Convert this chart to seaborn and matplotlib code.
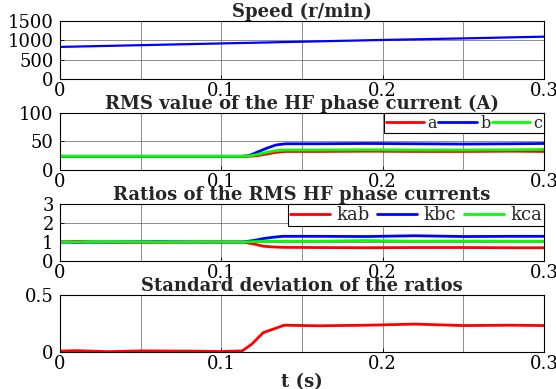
import matplotlib
matplotlib.use("Agg")
import matplotlib.pyplot as plt
import seaborn as sns
import pandas as pd
from matplotlib.ticker import MultipleLocator

# Time samples (s)
t_speed = [0.0, 0.05, 0.1, 0.15, 0.2, 0.25, 0.3]
speed = [830, 875, 920, 965, 1010, 1050, 1095]

t_rms = [0.0, 0.03, 0.06, 0.09, 0.112, 0.117, 0.122, 0.128, 0.134, 0.14, 0.16, 0.19, 0.22, 0.25, 0.28, 0.3]
rms_a = [24, 24, 24, 24, 24, 24, 25, 28, 31, 32.5, 32.5, 33, 32.5, 32.5, 33, 32.5]
rms_b = [24, 24, 24, 24, 24, 25, 31, 38, 44, 46, 46, 46.5, 46, 45.5, 46, 46.5]
rms_c = [24, 24, 24, 24, 24, 24.5, 27, 31, 34, 35, 35, 35.5, 35, 35, 35.5, 36]

t_ratio = [0.0, 0.01, 0.03, 0.06, 0.09, 0.113, 0.12, 0.126, 0.132, 0.138, 0.16, 0.19, 0.22, 0.25, 0.28, 0.3]
k_ab = [1.0, 1.03, 0.99, 0.98, 1.01, 1.0, 0.9, 0.78, 0.74, 0.72, 0.71, 0.7, 0.71, 0.71, 0.7, 0.7]
k_bc = [1.0, 0.98, 1.0, 1.02, 0.99, 1.0, 1.08, 1.18, 1.25, 1.3, 1.3, 1.29, 1.33, 1.29, 1.3, 1.3]
k_ca = [1.0, 1.0, 1.01, 1.0, 1.0, 1.0, 1.02, 1.04, 1.05, 1.04, 1.04, 1.08, 1.04, 1.05, 1.04, 1.04]

t_std = [0.0, 0.01, 0.03, 0.05, 0.08, 0.1, 0.113, 0.119, 0.126, 0.132, 0.139, 0.16, 0.19, 0.22, 0.25, 0.28, 0.3]
std_ratio = [0.008, 0.012, 0.003, 0.01, 0.008, 0.004, 0.01, 0.07, 0.17, 0.2, 0.235, 0.23, 0.235, 0.245, 0.232, 0.235, 0.232]

x_ticks = [0, 0.1, 0.2, 0.3]
x_tick_labels = ["0", "0.1", "0.2", "0.3"]

sns.set_style("ticks")
SERIF = "DejaVu Serif"
plt.rcParams["font.family"] = [SERIF]

RED, BLUE, GREEN = "#ff0000", "#0000ff", "#00ff00"

fig = plt.figure(figsize=(5.56, 3.89), dpi=100)
left, width = 0.1079, 0.8705
panels = [
    (0.7969, 0.1491),
    (0.5630, 0.1465),
    (0.3290, 0.1465),
    (0.0951, 0.1465),
]
axes = [fig.add_axes([left, b, width, h]) for b, h in panels]


def style_axis(ax, title, yticks, ylabels):
    ax.set_xlim(0, 0.3)
    ax.set_ylim(yticks[0], yticks[-1])
    ax.set_xticks(x_ticks)
    ax.set_xticklabels(x_tick_labels)
    ax.xaxis.set_minor_locator(MultipleLocator(0.05))
    ax.set_yticks(yticks)
    ax.set_yticklabels(ylabels)
    ax.grid(True, which="both", color="#606060", linewidth=0.5)
    ax.tick_params(direction="in", length=3, labelsize=13, colors="black", width=0.6)
    ax.tick_params(axis="x", pad=2)
    ax.tick_params(axis="y", pad=4.5)
    ax.tick_params(which="minor", direction="in", length=0)
    for s in ax.spines.values():
        s.set_visible(True)
        s.set_color("black")
        s.set_linewidth(0.8)
    ax.set_title(title, fontsize=13, fontweight="bold", pad=1)
    ax.set_xlabel("")
    ax.set_ylabel("")


def boxed_legend(ax, size, **kw):
    leg = ax.legend(loc="upper right", ncol=3, fontsize=size, frameon=True, fancybox=False,
                    edgecolor="black", framealpha=1, borderpad=0.1, borderaxespad=0.0,
                    labelspacing=0.0, **kw)
    leg.get_frame().set_linewidth(0.8)
    for line in leg.get_lines():
        line.set_linewidth(2)
    return leg


# Speed
df_speed = pd.DataFrame({"t": t_speed, "v": speed})
sns.lineplot(data=df_speed, x="t", y="v", ax=axes[0], color=BLUE, linewidth=1.6)
style_axis(axes[0], "Speed (r/min)", [0, 500, 1000, 1500], ["0", "500", "1000", "1500"])

# RMS HF phase currents
df_rms = pd.DataFrame({
    "t": t_rms * 3,
    "v": rms_a + rms_b + rms_c,
    "phase": ["a"] * len(t_rms) + ["b"] * len(t_rms) + ["c"] * len(t_rms),
})
sns.lineplot(data=df_rms, x="t", y="v", hue="phase", ax=axes[1],
             palette={"a": RED, "b": BLUE, "c": GREEN}, linewidth=2)
style_axis(axes[1], "RMS value of the HF phase current (A)", [0, 50, 100], ["0", "50", "100"])
boxed_legend(axes[1], 11.5, handlelength=2.4, handletextpad=0.2, columnspacing=0.1)

# Ratios
df_ratio = pd.DataFrame({
    "t": t_ratio * 3,
    "v": k_ab + k_bc + k_ca,
    "ratio": ["kab"] * len(t_ratio) + ["kbc"] * len(t_ratio) + ["kca"] * len(t_ratio),
})
sns.lineplot(data=df_ratio, x="t", y="v", hue="ratio", ax=axes[2],
             palette={"kab": RED, "kbc": BLUE, "kca": GREEN}, linewidth=2)
style_axis(axes[2], "Ratios of the RMS HF phase currents", [0, 1, 2, 3], ["0", "1", "2", "3"])
boxed_legend(axes[2], 13, handlelength=2.2, handletextpad=0.35, columnspacing=0.45)

# Standard deviation
df_std = pd.DataFrame({"t": t_std, "v": std_ratio})
sns.lineplot(data=df_std, x="t", y="v", ax=axes[3], color=RED, linewidth=2)
style_axis(axes[3], "Standard deviation of the ratios", [0, 0.5], ["0", "0.5"])
axes[3].set_xlabel("t (s)", fontsize=13, fontweight="bold", labelpad=0)

fig.savefig("out.png", dpi=100)
